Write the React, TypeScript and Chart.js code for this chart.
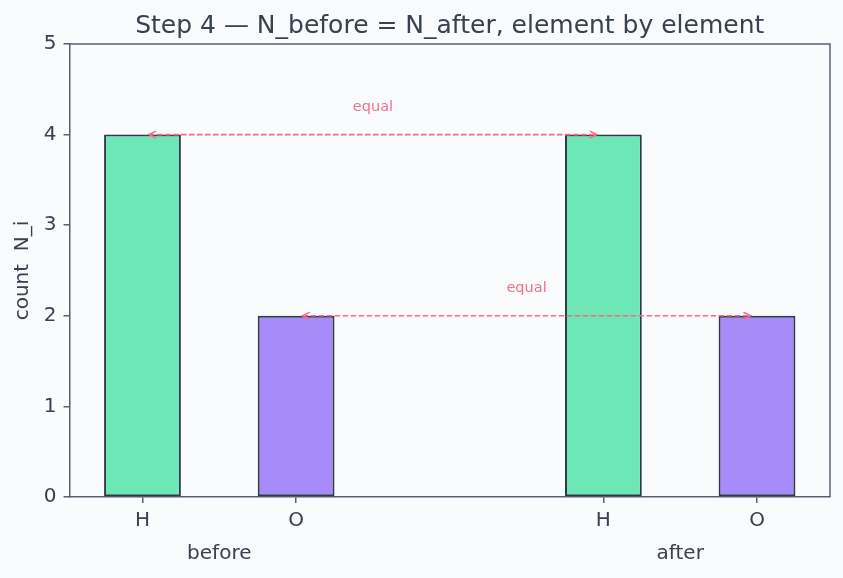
import React, { useEffect, useRef } from 'react';
import { Chart, registerables } from 'chart.js';

Chart.register(...registerables);

// ---- data ----
const elements = ['H', 'O', 'H', 'O'];
const positions = [0, 1, 3, 4];
const counts = [4, 2, 4, 2];
const barColors = ['#6ee7b7', '#a78bfa', '#6ee7b7', '#a78bfa'];
const groupLabels = ['before', 'after'];
const groupCenters = [0.5, 3.5];
const arrowStart = [0, 1];
const arrowEnd = [3, 4];
const arrowLevel = [4, 2];
const arrowText = ['equal', 'equal'];
const arrowTextX = [1.5, 2.5];
const arrowTextY = [4.3, 2.3];

const titleText = 'Step 4 \u2014 N_before = N_after, element by element';
const yLabel = 'count  N_i';

const FONT = '"DejaVu Sans", Verdana, sans-serif';
const TEXT = '#374151';
const AXIS = '#596170';
const EDGE = '#2d3a48';
const PINK = '#f06f8c';
const BG = '#fafbfd';

const overlay = {
  id: 'overlay',
  beforeDraw(chart: any) {
    const ctx = chart.ctx;
    ctx.save();
    ctx.fillStyle = BG;
    ctx.fillRect(0, 0, chart.width, chart.height);
    ctx.restore();
  },
  afterDraw(chart: any) {
    const ctx = chart.ctx;
    const { left, right, top, bottom } = chart.chartArea;
    const xs = chart.scales.x;
    const ys = chart.scales.y;
    ctx.save();
    // top & right spines
    ctx.strokeStyle = AXIS;
    ctx.lineWidth = 1.5;
    ctx.beginPath();
    ctx.moveTo(left, top);
    ctx.lineTo(right, top);
    ctx.lineTo(right, bottom);
    ctx.stroke();

    // title
    ctx.fillStyle = TEXT;
    ctx.font = `25px ${FONT}`;
    ctx.textAlign = 'center';
    ctx.textBaseline = 'alphabetic';
    ctx.fillText(titleText, (left + right) / 2, 33);

    // group labels
    ctx.font = `20px ${FONT}`;
    ctx.textBaseline = 'middle';
    groupLabels.forEach((g, i) => {
      ctx.fillText(g, xs.getPixelForValue(groupCenters[i]), 554);
    });

    // arrows
    const shrink = 6.5;
    arrowStart.forEach((s, i) => {
      const x1 = xs.getPixelForValue(s) + shrink;
      const x2 = xs.getPixelForValue(arrowEnd[i]) - shrink;
      const y = ys.getPixelForValue(arrowLevel[i]);
      ctx.strokeStyle = PINK;
      ctx.lineWidth = 1.6;
      ctx.setLineDash([5.5, 2.5]);
      ctx.beginPath();
      ctx.moveTo(x1, y);
      ctx.lineTo(x2, y);
      ctx.stroke();
      ctx.setLineDash([]);
      const h = 7, w = 3.5;
      ctx.beginPath();
      ctx.moveTo(x1 + h, y - w);
      ctx.lineTo(x1, y);
      ctx.lineTo(x1 + h, y + w);
      ctx.moveTo(x2 - h, y - w);
      ctx.lineTo(x2, y);
      ctx.lineTo(x2 - h, y + w);
      ctx.stroke();
      ctx.fillStyle = PINK;
      ctx.font = `14.5px ${FONT}`;
      ctx.textAlign = 'center';
      ctx.textBaseline = 'middle';
      ctx.fillText(arrowText[i], xs.getPixelForValue(arrowTextX[i]), ys.getPixelForValue(arrowTextY[i]));
    });
    ctx.restore();
  },
};

export default function App() {
  const ref = useRef<HTMLCanvasElement>(null);
  useEffect(() => {
    document.body.style.margin = '0';
    const canvas = ref.current!;
    const chart = new Chart(canvas, {
      type: 'bar',
      data: {
        datasets: [
          {
            data: positions.map((x, i) => ({ x, y: counts[i] })) as any,
            backgroundColor: barColors,
            borderColor: EDGE,
            borderWidth: 2,
            borderSkipped: false,
            barPercentage: 0.5,
            categoryPercentage: 1,
          },
        ],
      },
      options: {
        responsive: false,
        animation: false,
        events: [],
        layout: { padding: { left: 0, top: 44, right: 13, bottom: 0 } },
        plugins: {
          legend: { display: false },
          tooltip: { enabled: false },
          title: { display: false },
        },
        scales: {
          x: {
            type: 'linear',
            min: -0.475,
            max: 4.475,
            offset: false,
            afterBuildTicks: (s: any) => {
              s.ticks = positions.map((v) => ({ value: v }));
            },
            afterFit: (s: any) => {
              s.height = 81;
            },
            ticks: {
              autoSkip: false,
              maxRotation: 0,
              padding: 6,
              color: TEXT,
              font: { family: FONT, size: 20 },
              callback: (_v: any, i: number) => elements[i],
            },
            grid: {
              offset: false,
              drawOnChartArea: false,
              drawTicks: true,
              tickLength: 6,
              color: AXIS,
              lineWidth: 1.5,
            },
            border: { display: true, color: AXIS, width: 1.5 },
          },
          y: {
            min: 0,
            max: 5,
            afterFit: (s: any) => {
              s.width = 69.5;
            },
            ticks: {
              stepSize: 1,
              padding: 7,
              color: TEXT,
              font: { family: FONT, size: 20 },
            },
            grid: {
              drawOnChartArea: false,
              drawTicks: true,
              tickLength: 6,
              color: AXIS,
              lineWidth: 1.5,
            },
            border: { display: true, color: AXIS, width: 1.5 },
            title: {
              display: true,
              text: yLabel,
              color: TEXT,
              font: { family: FONT, size: 20 },
              padding: { top: 11, bottom: 0 },
            },
          },
        },
      } as any,
      plugins: [overlay],
    });
    return () => chart.destroy();
  }, []);
  return (
    <div style={{ position: 'fixed', left: 0, top: 0, width: 843, height: 578 }}>
      <canvas ref={ref} width={843} height={578} style={{ display: 'block' }} />
    </div>
  );
}
